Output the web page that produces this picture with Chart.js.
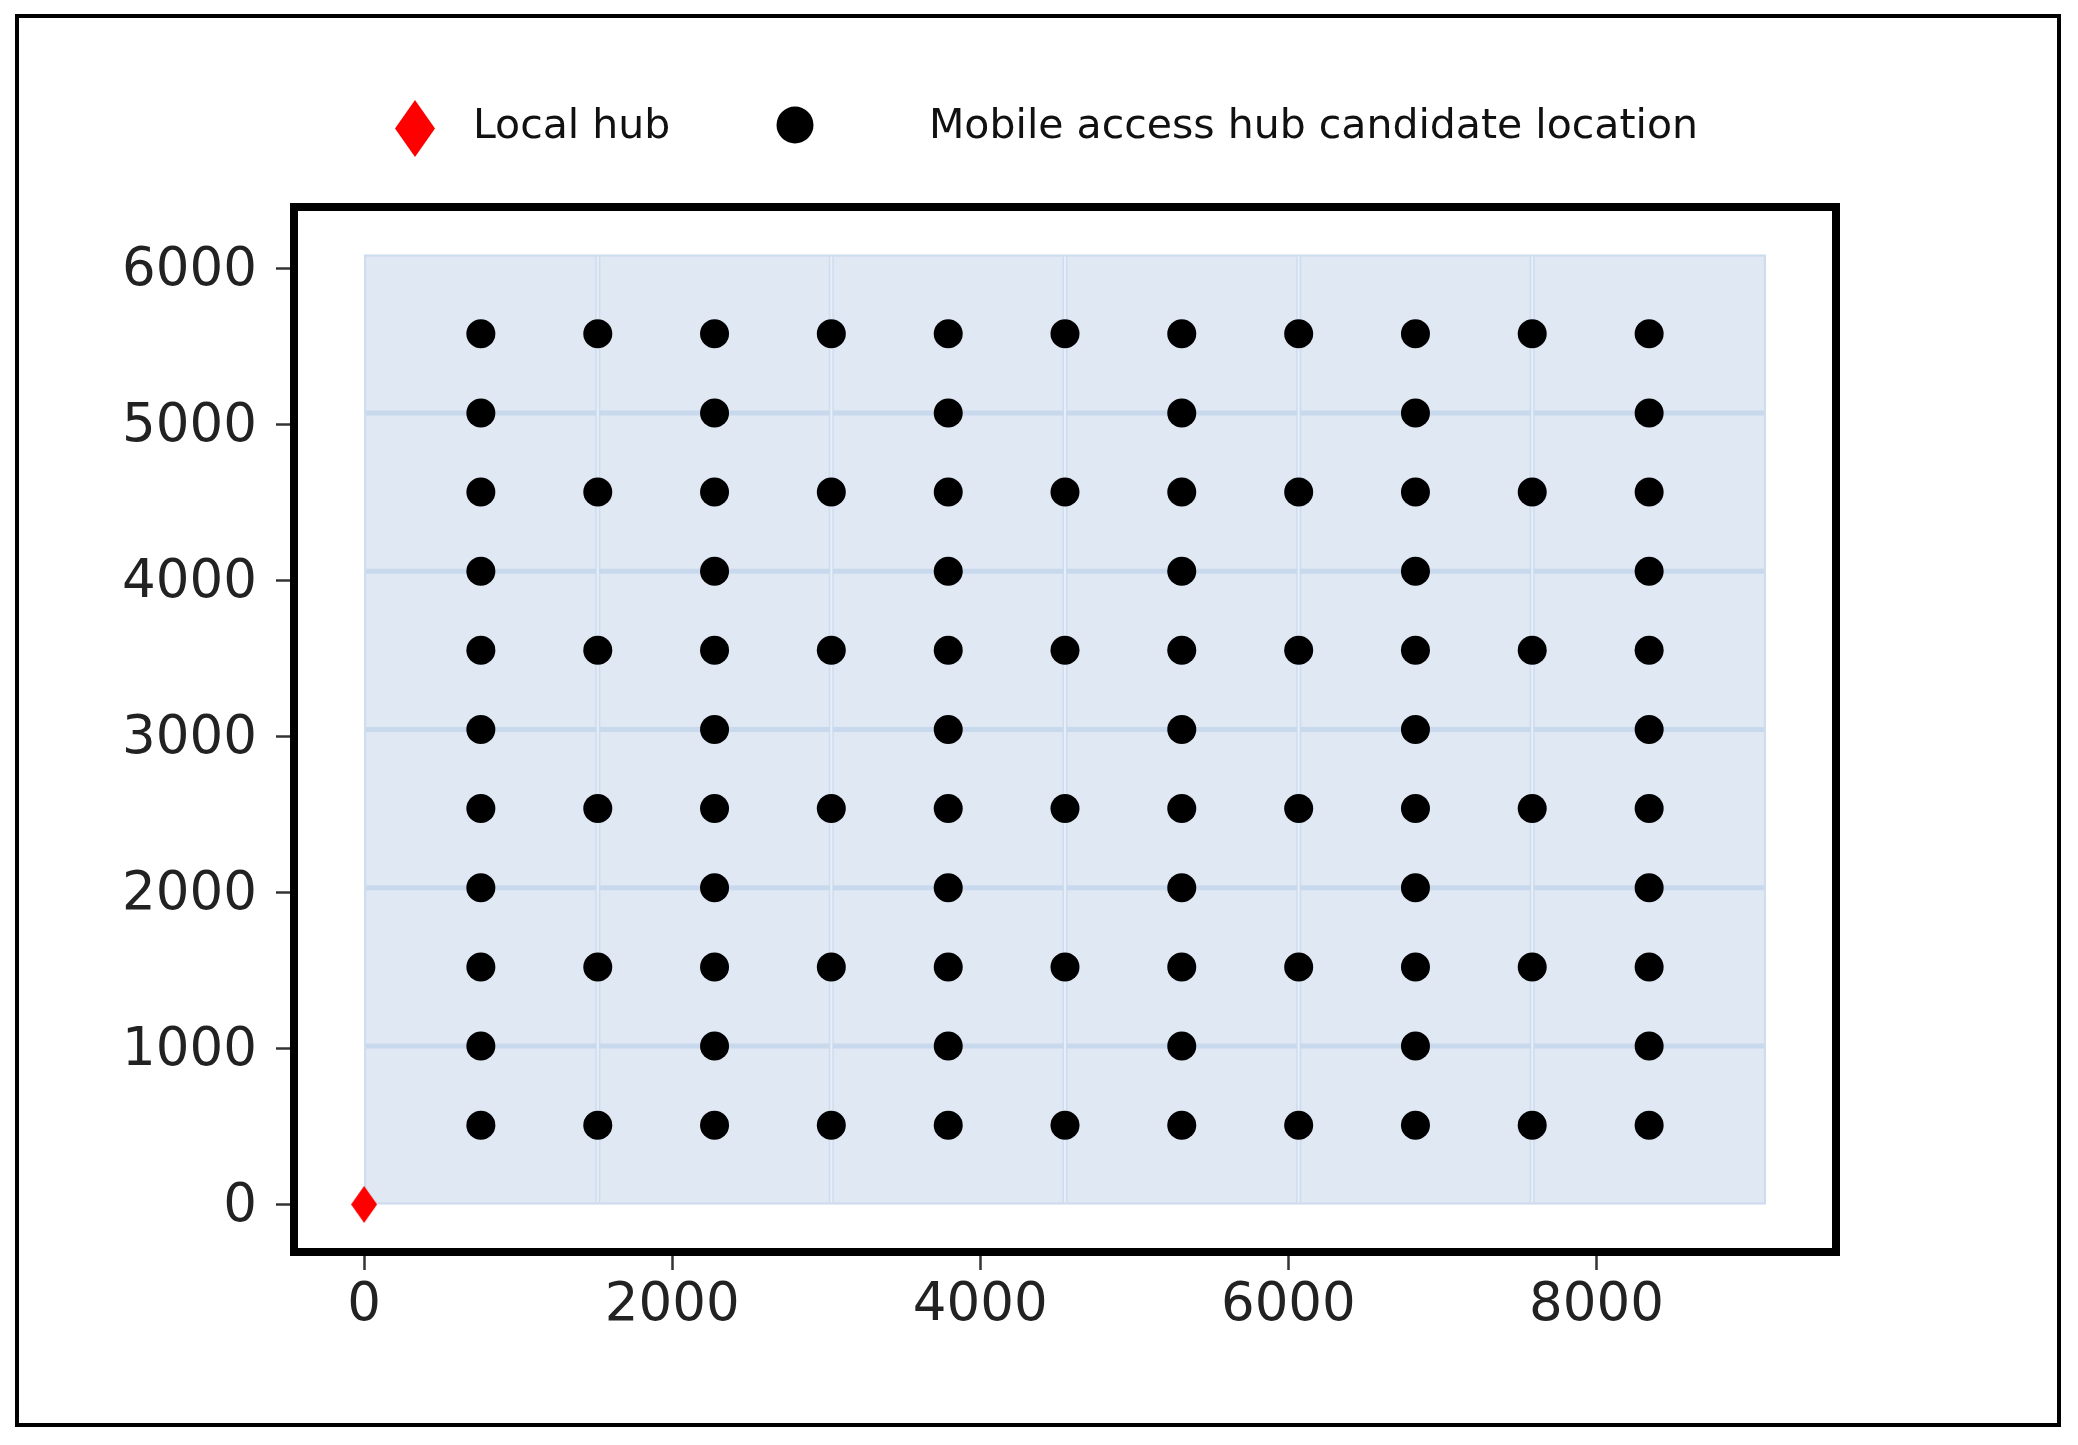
<!DOCTYPE html>
<html>
<head>
<meta charset="utf-8">
<script src="https://cdn.jsdelivr.net/npm/chart.js@4"></script>
<style>
  html, body { margin: 0; padding: 0; background: #fff; }
  canvas { display: block; }
</style>
</head>
<body>
<canvas id="main_graphic" width="2078" height="1445"></canvas>
<script>
// candidate grid
const colX = [758, 1517, 2275, 3033, 3792, 4550, 5308, 6067, 6825, 7583, 8342]
const fullRowY = [508, 1523, 2538, 3553, 4568, 5583]
const halfColX = [758, 2275, 3792, 5308, 6825, 8342]
const halfRowY = [1015, 2030, 3045, 4060, 5075]
const hubX = [0]
const hubY = [0]
// shaded cells behind the points
const cellEdgesX = [0, 1517, 3033, 4550, 6067, 7583, 9100]
const cellEdgesY = [0, 1015, 2030, 3045, 4060, 5075, 6090]
// axes
const xTicks = [0, 2000, 4000, 6000, 8000]
const yTicks = [0, 1000, 2000, 3000, 4000, 5000, 6000]
const xRange = [-455, 9555]
const yRange = [-305, 6395]
const labels = ['Local hub', 'Mobile access hub candidate location']

const candidatos = []
for (const y of fullRowY) for (const x of colX) candidatos.push({x: x, y: y})
for (const y of halfRowY) for (const x of halfColX) candidatos.push({x: x, y: y})
const hub = hubX.map((x, i) => ({x: x, y: hubY[i]}))

const diamante = (ctx, cx, cy, w, h) => {
  ctx.beginPath()
  ctx.moveTo(cx, cy - h / 2)
  ctx.lineTo(cx + w / 2, cy)
  ctx.lineTo(cx, cy + h / 2)
  ctx.lineTo(cx - w / 2, cy)
  ctx.closePath()
  ctx.fill()
}

const hubImg = document.createElement('canvas')
hubImg.width = 26
hubImg.height = 37
const hctx = hubImg.getContext('2d')
hctx.fillStyle = '#ff0000'
diamante(hctx, 13, 18.5, 26, 37)

const fonte = 'DejaVu Sans'

const cellsPlugin = {
  id: 'cells',
  beforeDatasetsDraw(chart) {
    const ctx = chart.ctx
    const sx = chart.scales.x, sy = chart.scales.y
    const px = cellEdgesX.map(v => sx.getPixelForValue(v))
    const py = cellEdgesY.map(v => sy.getPixelForValue(v))
    const left = px[0], right = px[px.length - 1]
    const bottom = py[0], top = py[py.length - 1]
    ctx.save()
    ctx.fillStyle = '#dfe8f3'
    ctx.fillRect(left, top, right - left, bottom - top)
    // outer edge, faint
    ctx.strokeStyle = 'rgba(200,217,237,0.8)'
    ctx.lineWidth = 2
    ctx.strokeRect(left + 1, top + 1, right - left - 2, bottom - top - 2)
    // interior horizontal bands
    ctx.strokeStyle = 'rgba(196,214,235,0.85)'
    ctx.lineWidth = 5
    for (let j = 1; j < py.length - 1; j++) {
      ctx.beginPath()
      ctx.moveTo(left + 2, py[j])
      ctx.lineTo(right - 2, py[j])
      ctx.stroke()
    }
    // interior vertical bands, lighter in the middle
    for (let i = 1; i < px.length - 1; i++) {
      ctx.strokeStyle = 'rgba(200,217,237,0.8)'
      ctx.lineWidth = 5
      ctx.beginPath()
      ctx.moveTo(px[i], top + 2)
      ctx.lineTo(px[i], bottom - 2)
      ctx.stroke()
      ctx.strokeStyle = '#e7eef7'
      ctx.lineWidth = 2
      ctx.beginPath()
      ctx.moveTo(px[i], top + 2)
      ctx.lineTo(px[i], bottom - 2)
      ctx.stroke()
    }
    ctx.restore()
  }
}

const framePlugin = {
  id: 'frame',
  afterDraw(chart) {
    const ctx = chart.ctx
    const a = chart.chartArea
    ctx.save()
    ctx.strokeStyle = '#000'
    ctx.lineWidth = 8
    ctx.strokeRect(a.left, a.top, a.right - a.left, a.bottom - a.top)
    // outer figure border
    ctx.lineWidth = 4
    ctx.strokeRect(17, 16, 2042, 1409)

    // legend
    ctx.fillStyle = '#ff0000'
    diamante(ctx, 415, 128.5, 40, 57)
    ctx.fillStyle = '#000'
    ctx.beginPath()
    ctx.arc(795, 125, 18.5, 0, Math.PI * 2)
    ctx.fill()
    ctx.fillStyle = '#111'
    ctx.font = '41px "' + fonte + '"'
    ctx.textBaseline = 'alphabetic'
    ctx.textAlign = 'left'
    ctx.fillText(chart.data.datasets[0].label, 473, 138)
    ctx.fillText(chart.data.datasets[1].label, 929, 138)
    ctx.restore()
  }
}

const eixo = (range, ticks, pos) => ({
  type: 'linear',
  position: pos,
  min: range[0],
  max: range[1],
  afterBuildTicks: s => { s.ticks = ticks.map(v => ({value: v})) },
  afterFit: s => {
    if (pos === 'left') s.width = 294
    else s.height = 193
  },
  border: {display: false},
  grid: {drawOnChartArea: false, drawTicks: true, tickLength: 18, tickWidth: 2.5, tickColor: '#333'},
  ticks: {
    color: '#222',
    font: {family: fonte, size: 53},
    padding: pos === 'left' ? 19 : 4,
    labelOffset: pos === 'left' ? 3 : 0,
    maxRotation: 0,
    autoSkip: false,
    callback: v => String(v)
  }
})

const data = {
  datasets: [
    {label: labels[0], data: hub, pointStyle: hubImg, pointRadius: 19, backgroundColor: '#ff0000', borderWidth: 0},
    {label: labels[1], data: candidatos, pointStyle: 'circle', pointRadius: 14.5, backgroundColor: '#000', borderWidth: 0}
  ]
}

const config = {
  type: 'scatter',
  data: data,
  options: {
    responsive: false,
    devicePixelRatio: 1,
    animation: false,
    events: [],
    layout: {padding: {top: 207, right: 242, left: 0, bottom: 0}},
    plugins: {legend: {display: false}, tooltip: {enabled: false}},
    scales: {
      x: eixo(xRange, xTicks, 'bottom'),
      y: eixo(yRange, yTicks, 'left')
    }
  },
  plugins: [cellsPlugin, framePlugin]
}

var myChart = new Chart(document.getElementById('main_graphic'), config)
</script>
</body>
</html>
